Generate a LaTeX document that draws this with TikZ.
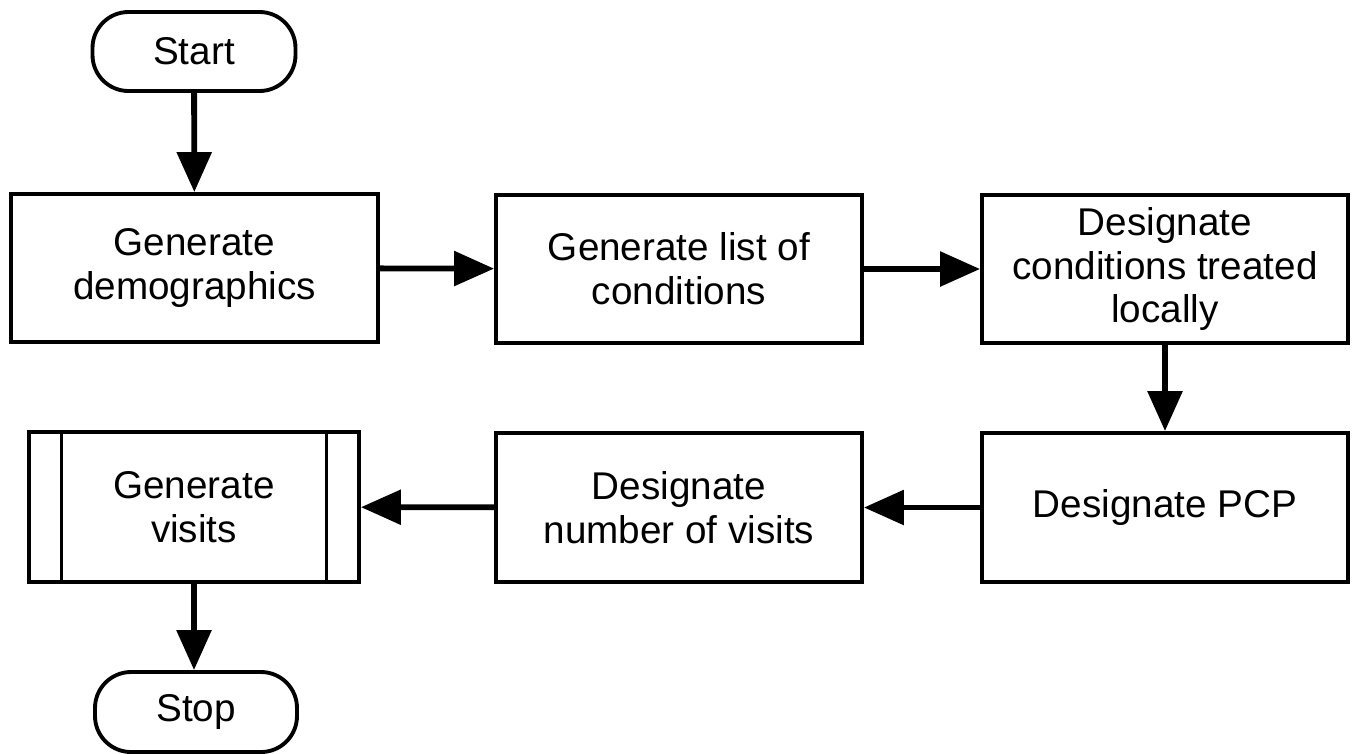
\documentclass[tikz,border=0pt]{standalone}
\usepackage{fontspec}
\setmainfont{Liberation Sans}
\usetikzlibrary{arrows.meta}
\tikzset{
  stepbox/.style={draw, line width=2.2pt, inner sep=0pt, align=center,
    font=\fontsize{22}{25}\selectfont},
  term/.style={stepbox, rounded corners=0.72cm},
  arr/.style={line width=3.3pt, -{Triangle[length=0.8cm, width=0.68cm]}},
}
\begin{document}
\begin{tikzpicture}
\useasboundingbox (0,0) rectangle (27.14,-15.06);

% terminators
\node[term, minimum width=4.06cm, minimum height=1.58cm] (start) at (3.88,-1.03) {Start};
\node[term, minimum width=4.04cm, minimum height=1.60cm] (stop) at (3.92,-14.24) {Stop};

% top row
\node[stepbox, minimum width=7.34cm, minimum height=2.96cm] (demo) at (3.89,-5.36)
  {Generate\\demographics};
\node[stepbox, minimum width=7.32cm, minimum height=2.96cm] (list) at (13.58,-5.38)
  {Generate list of\\conditions};
\node[stepbox, minimum width=7.32cm, minimum height=2.96cm] (local) at (23.30,-5.38)
  {Designate\\conditions treated\\locally};

% bottom row
\node[stepbox, minimum width=7.32cm, minimum height=2.98cm] (pcp) at (23.30,-10.15)
  {Designate PCP};
\node[stepbox, minimum width=7.32cm, minimum height=2.98cm] (num) at (13.58,-10.15)
  {Designate\\number of visits};
\node[stepbox, minimum width=6.60cm, minimum height=3.00cm] (visits) at (3.88,-10.14)
  {Generate\\visits};

% predefined-process side bars
\draw[line width=1.7pt] ([xshift=0.68cm]visits.north west) -- ([xshift=0.68cm]visits.south west);
\draw[line width=1.7pt] ([xshift=-0.68cm]visits.north east) -- ([xshift=-0.68cm]visits.south east);

% connectors
\draw[arr] (start) -- (demo);
\draw[arr] (demo) -- (list);
\draw[arr] (list) -- (local);
\draw[arr] (local) -- (pcp);
\draw[arr] (pcp) -- (num);
\draw[arr] (num) -- (visits);
\draw[arr] (visits) -- (visits.south |- stop.north);
\end{tikzpicture}
\end{document}
